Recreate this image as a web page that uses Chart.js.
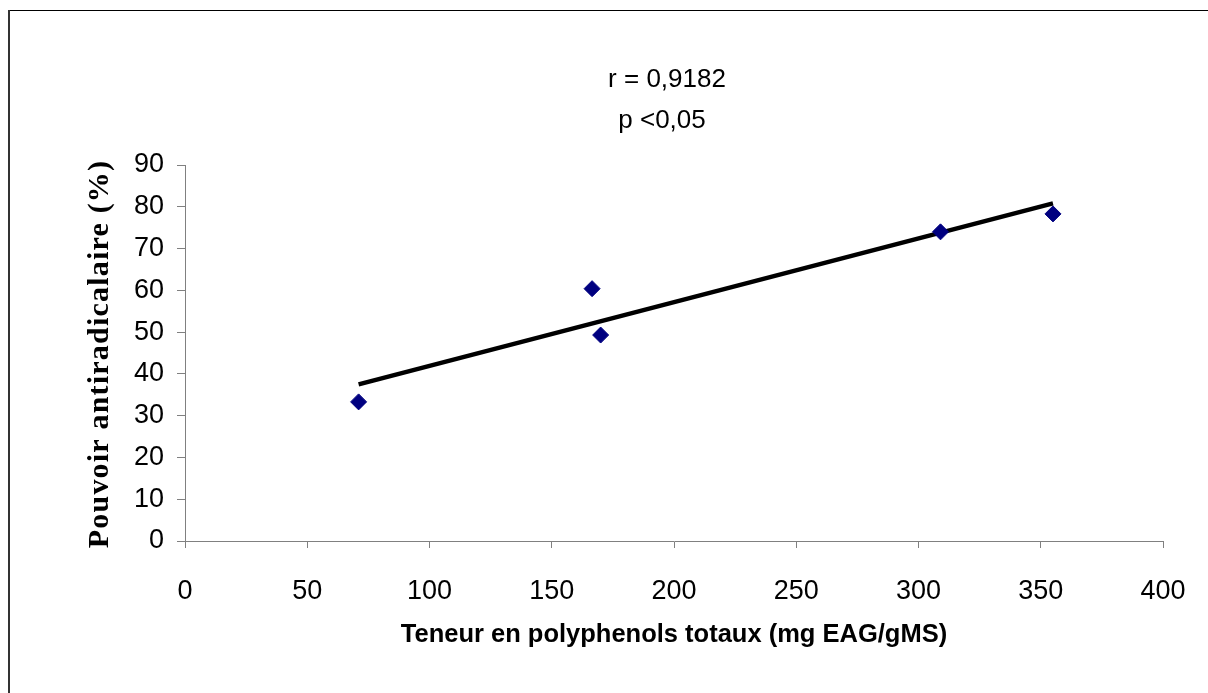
<!DOCTYPE html>
<html>
<head>
<meta charset="utf-8">
<script src="https://cdn.jsdelivr.net/npm/chart.js@4/dist/chart.umd.min.js"></script>
<style>
html,body{margin:0;padding:0;background:#fff;}
#wrap{width:1208px;height:693px;position:relative;}
</style>
</head>
<body>
<div id="wrap"><canvas id="c" width="1208" height="693"></canvas></div>
<script>
// Data
const polyphenols = [71, 166.5, 170, 309, 355];
const antiradical = [33.3, 60.4, 49.3, 74.0, 78.3];
const trendX = [71, 355];
const trendY = [37.5, 80.8];
const xTicks = [0, 50, 100, 150, 200, 250, 300, 350, 400];
const yTicks = [0, 10, 20, 30, 40, 50, 60, 70, 80, 90];
const annotationLines = ["r = 0,9182", "p <0,05"];
const xTitle = "Teneur en polyphenols totaux (mg EAG/gMS)";
const yTitle = "Pouvoir antiradicalaire (%)";

const points = polyphenols.map((x, i) => ({x: x, y: antiradical[i]}));
const trend = trendX.map((x, i) => ({x: x, y: trendY[i]}));

const framePlugin = {
  id: 'frame',
  afterDraw(chart) {
    const ctx = chart.ctx;
    const area = chart.chartArea;
    ctx.save();
    ctx.strokeStyle = '#000';
    ctx.lineWidth = 1;
    ctx.beginPath();
    ctx.moveTo(8, 10.5);
    ctx.lineTo(1208, 10.5);
    ctx.stroke();
    ctx.strokeStyle = '#333';
    ctx.lineWidth = 2;
    ctx.beginPath();
    ctx.moveTo(9, 10);
    ctx.lineTo(9, 693);
    ctx.stroke();
    // annotation text
    ctx.fillStyle = '#000';
    ctx.font = '26px "Liberation Sans", Arial, sans-serif';
    ctx.textAlign = 'center';
    ctx.textBaseline = 'middle';
    ctx.fillText(annotationLines[0], 667, 80);
    ctx.fillText(annotationLines[1], 662, 121);
    ctx.restore();
    // y axis title (rotated)
    ctx.save();
    ctx.translate(100, (area.top + area.bottom) / 2 + 1);
    ctx.rotate(-Math.PI / 2);
    ctx.fillStyle = '#000';
    ctx.font = 'bold 30px "Liberation Serif", "Times New Roman", serif';
    ctx.letterSpacing = '1.2px';
    ctx.textAlign = 'center';
    ctx.textBaseline = 'middle';
    ctx.fillText(yTitle, 0, 0);
    ctx.restore();
  }
};

new Chart(document.getElementById('c'), {
  type: 'scatter',
  data: {
    datasets: [
      {
        label: 'trend',
        type: 'line',
        data: trend,
        borderColor: '#000',
        borderWidth: 4.5,
        pointRadius: 0,
        fill: false,
        order: 2
      },
      {
        label: 'points',
        data: points,
        pointStyle: 'rectRot',
        pointRadius: 8,
        pointHoverRadius: 8,
        backgroundColor: '#000080',
        borderColor: '#000080',
        borderWidth: 1,
        order: 1
      }
    ]
  },
  options: {
    responsive: false,
    animation: false,
    devicePixelRatio: 1,
    layout: {padding: {left: 78, right: 45, top: 165, bottom: 0}},
    plugins: {legend: {display: false}, tooltip: {enabled: false}},
    scales: {
      x: {
        type: 'linear',
        min: 0, max: 400,
        afterBuildTicks(scale) { scale.ticks = xTicks.map(v => ({value: v})); },
        afterFit(scale) { scale.height = 152; scale.paddingLeft = 0; scale.paddingRight = 0; },
        grid: {display: true, drawOnChartArea: false, drawTicks: true, tickLength: 7, color: '#808080', lineWidth: 1},
        border: {display: true, color: '#808080', width: 1},
        ticks: {color: '#000', font: {family: '"Liberation Sans", Arial, sans-serif', size: 27}, padding: 27, maxRotation: 0},
        title: {display: true, text: xTitle, color: '#000', font: {family: '"Liberation Sans", Arial, sans-serif', size: 25.5, weight: 'bold'}, padding: {top: 0, bottom: 43}}
      },
      y: {
        type: 'linear',
        min: 0, max: 90,
        afterBuildTicks(scale) { scale.ticks = yTicks.map(v => ({value: v})); },
        afterFit(scale) { scale.width = 107; scale.paddingTop = 0; scale.paddingBottom = 0; },
        grid: {display: true, drawOnChartArea: false, drawTicks: true, tickLength: 8, color: '#808080', lineWidth: 1},
        border: {display: true, color: '#808080', width: 1},
        ticks: {color: '#000', font: {family: '"Liberation Sans", Arial, sans-serif', size: 27}, padding: 13},
        title: {display: false}
      }
    }
  },
  plugins: [framePlugin]
});
</script>
</body>
</html>
